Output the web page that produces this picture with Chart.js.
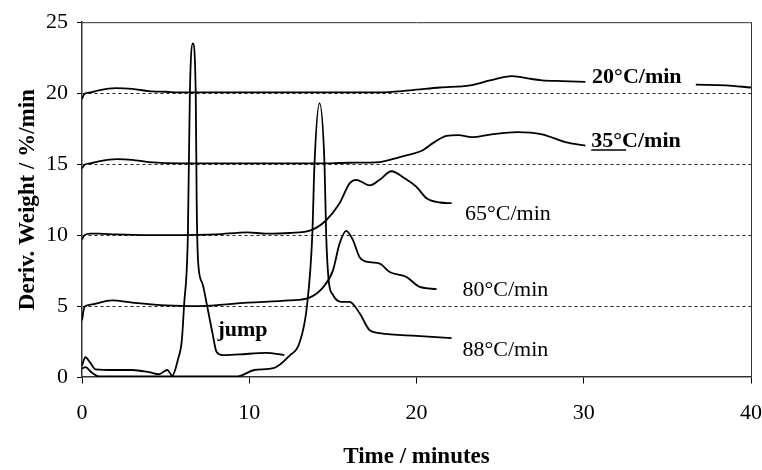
<!DOCTYPE html>
<html>
<head>
<meta charset="utf-8">
<script src="https://cdn.jsdelivr.net/npm/chart.js@4.4.1/dist/chart.umd.min.js"></script>
<style>
  html, body { margin: 0; padding: 0; background: #fff; }
  #wrap { width: 762px; height: 470px; }
</style>
</head>
<body>
<div id="wrap"><canvas id="chartDTG"></canvas></div>
<script>
// Tick values
const xTicks = [0, 10, 20, 30, 40];
const yTicks = [0, 5, 10, 15, 20, 25];

// 20°C/min (null = gap behind the label)
const time20 = [0, 0.15, 0.5, 1, 2, 3, 4, 5, 6, 8, 10, 12, 14, 16, 17.8, 19.6, 21.4, 23.2, 24.4, 25.7, 26.9, 27.5, 28.7, 30.1, 33, 36.7, 38.5, 40];
const rate20 = [19.6, 19.95, 20.05, 20.2, 20.35, 20.3, 20.15, 20.1, 20.05, 20.05, 20.05, 20.05, 20.05, 20.05, 20.05, 20.2, 20.4, 20.55, 20.9, 21.2, 21.0, 20.9, 20.85, 20.8, null, 20.6, 20.55, 20.4];

// 35°C/min
const time35 = [0, 0.15, 0.5, 1, 2.1, 3, 4, 6, 8, 10, 12, 14, 16, 17.8, 19, 20.4, 21, 21.8, 22.5, 23.3, 24.5, 26, 27.5, 28.9, 30.1];
const rate35 = [14.7, 14.95, 15.05, 15.2, 15.35, 15.3, 15.15, 15.05, 15.05, 15.05, 15.05, 15.05, 15.1, 15.15, 15.5, 16.0, 16.5, 17.0, 17.05, 16.9, 17.1, 17.25, 17.1, 16.55, 16.3];

// 65°C/min
const time65 = [0, 0.15, 0.5, 1, 2, 4, 6, 8, 9.9, 11, 12.4, 13.7, 14.6, 15.4, 16, 16.4, 17.2, 17.8, 18.5, 19.3, 20, 20.6, 21.4, 22.1];
const rate65 = [9.7, 10.0, 10.1, 10.1, 10.05, 10.0, 10.0, 10.05, 10.2, 10.1, 10.15, 10.35, 11.05, 12.25, 13.65, 13.9, 13.5, 13.9, 14.5, 14.0, 13.4, 12.6, 12.3, 12.25];

// 80°C/min
const time80 = [0, 0.15, 0.5, 1.8, 3, 5, 7, 9.9, 12.4, 13.6, 14.4, 15, 15.4, 15.8, 16.2, 16.6, 17.2, 17.8, 18.4, 19.4, 20.2, 21.2];
const rate80 = [4.0, 4.95, 5.1, 5.4, 5.25, 5.05, 5.0, 5.25, 5.4, 5.6, 6.3, 7.5, 9.4, 10.3, 9.65, 8.45, 8.1, 8.0, 7.4, 7.05, 6.35, 6.2];

// "jump" run
const timeJump = [0, 0.2, 0.5, 0.8, 2, 3, 4, 4.6, 5.1, 5.4, 5.75, 5.97, 6.1, 6.33, 6.45, 6.63, 6.8, 6.86, 6.95, 7.2, 7.5, 7.8, 8.05, 8.4, 9.4, 11, 12.1];
const rateJump = [0.8, 1.4, 1.0, 0.55, 0.5, 0.5, 0.35, 0.2, 0.5, 0.1, 1.3, 2.6, 5, 10, 20, 23.5, 20, 12, 8, 6.6, 4.9, 3.1, 1.76, 1.55, 1.6, 1.7, 1.55];

// 88°C/min
const time88 = [0, 0.2, 0.6, 1, 3, 5, 7, 9.3, 10.3, 11.5, 12.4, 13.0, 13.45, 13.77, 13.9, 14.2, 14.5, 14.6, 14.75, 15, 15.5, 16, 16.6, 17.2, 17.8, 20, 22.1];
const rate88 = [0.6, 0.7, 0.3, 0.05, 0.05, 0.05, 0.05, 0.05, 0.5, 0.65, 1.5, 2.4, 5.0, 10, 15, 19.3, 15, 10, 6.8, 5.8, 5.3, 5.3, 4.5, 3.3, 3.1, 2.9, 2.75];

// Curve labels: text, position in data units (left edge, baseline)
const labelText = ["20°C/min", "35°C/min", "65°C/min", "80°C/min", "88°C/min", "jump"];
const labelX = [30.5, 30.45, 22.9, 22.75, 22.75, 8.1];
const labelY = [20.7, 16.2, 11.05, 5.7, 1.5, 2.9];
const labelBold = [true, true, false, false, false, true];

const SERIF = "'Liberation Serif', 'Times New Roman', serif";

function pts(xs, ys) {
  return xs.map((x, i) => ({ x: x, y: ys[i] }));
}

function curve(xs, ys) {
  return {
    data: pts(xs, ys),
    borderColor: "#000",
    borderWidth: 1.8,
    pointRadius: 0,
    fill: false,
    cubicInterpolationMode: "monotone",
    spanGaps: false,
  };
}

// text labels next to the curves + frame on top
const curveLabels = {
  id: "curveLabels",
  afterDatasetsDraw(chart) {
    const { ctx, scales, chartArea } = chart;
    ctx.save();
    ctx.strokeStyle = "#333";
    ctx.lineWidth = 1;
    ctx.beginPath();
    ctx.moveTo(chartArea.left, chartArea.top + 0.5);
    ctx.lineTo(chartArea.right, chartArea.top + 0.5);
    ctx.stroke();

    ctx.fillStyle = "#000";
    ctx.textBaseline = "alphabetic";
    ctx.textAlign = "left";
    labelText.forEach((txt, i) => {
      const px = scales.x.getPixelForValue(labelX[i]);
      const py = scales.y.getPixelForValue(labelY[i]);
      ctx.font = (labelBold[i] ? "bold " : "") + "22px " + SERIF;
      ctx.fillText(txt, px, py);
      if (txt.startsWith("35")) {
        // underline under "35°"
        const w = ctx.measureText("35°").width + 4;
        ctx.lineWidth = 1.5;
        ctx.strokeStyle = "#000";
        ctx.beginPath();
        ctx.moveTo(px, py + 3);
        ctx.lineTo(px + w, py + 3);
        ctx.stroke();
      }
    });
    ctx.restore();
  },
};

const ctxDTG = document.getElementById("chartDTG").getContext("2d");
const chartDTG = new Chart(ctxDTG, {
  type: "line",
  data: {
    datasets: [
      curve(time20, rate20),
      curve(time35, rate35),
      curve(time65, rate65),
      curve(time80, rate80),
      curve(timeJump, rateJump),
      curve(time88, rate88),
    ],
  },
  options: {
    responsive: true,
    maintainAspectRatio: false,
    animation: false,
    layout: {
      padding: { left: 4, right: 10, top: 22, bottom: 0 },
    },
    scales: {
      x: {
        type: "linear",
        min: xTicks[0],
        max: xTicks[xTicks.length - 1],
        ticks: {
          stepSize: xTicks[1] - xTicks[0],
          maxRotation: 0,
          color: "#000",
          padding: 0,
          font: { family: SERIF, size: 22 },
        },
        grid: {
          drawOnChartArea: true,
          color: (c) => (c.tick && c.tick.value === 40 ? "#333" : "rgba(0,0,0,0)"),
          tickColor: "#000",
          tickLength: 23,
          tickBorderDash: [6, 100],
          lineWidth: 1,
        },
        border: { display: true, color: "#333", width: 1.5 },
        title: {
          display: true,
          text: "Time / minutes",
          color: "#000",
          font: { family: SERIF, size: 23, weight: "bold", lineHeight: 1 },
          padding: { top: 19, bottom: 1.5 },
        },
      },
      y: {
        type: "linear",
        min: yTicks[0],
        max: yTicks[yTicks.length - 1],
        ticks: {
          stepSize: yTicks[1] - yTicks[0],
          color: "#000",
          padding: 9,
          font: { family: SERIF, size: 22 },
        },
        grid: {
          color: (c) =>
            c.tick && (c.tick.value === 0 || c.tick.value === 25)
              ? "rgba(0,0,0,0)"
              : "#222",
          tickColor: "#000",
          tickLength: 5,
          lineWidth: 1,
        },
        border: { display: true, color: "#333", width: 1.5, dash: [3, 3] },
        title: {
          display: true,
          text: "Deriv. Weight / %/min",
          color: "#000",
          font: { family: SERIF, size: 23, weight: "bold", lineHeight: 1 },
          padding: { top: 12.5, bottom: -2.5 },
        },
      },
    },
    plugins: {
      legend: { display: false },
      tooltip: { enabled: false },
    },
  },
  plugins: [curveLabels],
});
</script>
</body>
</html>
